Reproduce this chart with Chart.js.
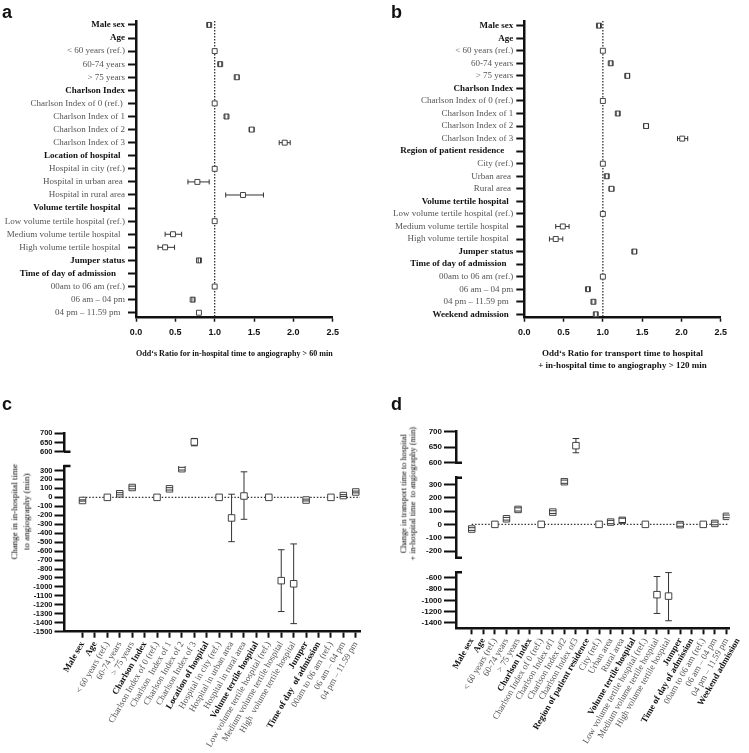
<!DOCTYPE html>
<html lang="en">
<head>
<meta charset="UTF-8">
<title>Odds ratios and time differences</title>
<style>
  body { margin: 0; background: #fff; }
  #wrap { position: relative; width: 749px; height: 753px; overflow: hidden; }
  canvas { position: absolute; }
  .letter { position: absolute; font: bold 18px "Liberation Sans", Arial, sans-serif; line-height: 18px; color: #111; }
  .ytitle { position: absolute; width: 200px; text-align: center; font-family: "Liberation Serif", "Times New Roman", serif; color: #000; transform: rotate(-90deg); white-space: nowrap; }
</style>
</head>
<body>
<div id="wrap">
  <canvas id="chartA" width="370" height="375" style="left:0;top:0"></canvas>
  <canvas id="chartB" width="379" height="375" style="left:370px;top:0"></canvas>
  <canvas id="chartC" width="370" height="353" style="left:0;top:400px"></canvas>
  <canvas id="chartD" width="379" height="353" style="left:370px;top:400px"></canvas>
  <div class="letter" style="left:2px;top:3px">a</div>
  <div class="letter" style="left:391px;top:3px">b</div>
  <div class="letter" style="left:2px;top:395px">c</div>
  <div class="letter" style="left:391px;top:395px">d</div>
  <div class="ytitle" style="left:-79px;top:500px;font-size:9px;line-height:11.7px">Change in in-hospital time<br>to angiography (min)</div>
  <div class="ytitle" style="left:309px;top:485px;font-size:8.3px;line-height:8.7px">Change in transport time to hospital<br>+ in-hospital time&nbsp; to angiography (min)</div>
</div>

<script src="https://cdn.jsdelivr.net/npm/chart.js"></script>
<script>
const SERIF = '"Liberation Serif", "Times New Roman", serif';
const SANS = '"Liberation Sans", Arial, sans-serif';

// ---- panel a: odds ratios, in-hospital time > 60 min
const rowsA = ['Male sex', 'Age', '< 60 years (ref.)', '60-74 years', '> 75 years', 'Charlson Index',
  'Charlson Index of 0 (ref.) ', 'Charlson Index of 1', 'Charlson Index of 2', 'Charlson Index of 3',
  'Location of hospital  ', 'Hospital in city (ref.)', 'Hospital in urban area ', 'Hospital in rural area',
  'Volume tertile hospital  ', 'Low volume tertile hospital (ref.)', 'Medium volume tertile hospital  ',
  'High volume tertile hospital  ', 'Jumper status', 'Time of day of admission    ', '00am to 06 am (ref.)',
  '06 am – 04 pm', '04 pm – 11.59 pm  '];
const headsA = [0, 1, 5, 10, 14, 18, 19];
const orA = [0.93, null, 1, 1.07, 1.28, null, 1, 1.15, 1.47, 1.89, null, 1, 0.78, 1.36, null, 1, 0.47, 0.37, 0.80, null, 1, 0.72, 0.80];
const loA = [0.91, null, null, 1.05, 1.26, null, null, 1.13, 1.44, 1.82, null, null, 0.66, 1.14, null, null, 0.37, 0.28, 0.79, null, null, 0.71, null];
const hiA = [0.95, null, null, 1.09, 1.31, null, null, 1.17, 1.50, 1.96, null, null, 0.93, 1.62, null, null, 0.58, 0.49, 0.82, null, null, 0.74, null];
const titleA = 'Odd‘s Ratio for in-hospital time to angiography > 60 min';

// ---- panel b: odds ratios, transport + in-hospital time > 120 min
const rowsB = ['Male sex', 'Age', '< 60 years (ref.)', '60-74 years', '> 75 years', 'Charlson Index',
  'Charlson Index of 0 (ref.)', 'Charlson Index of 1', 'Charlson Index of 2', 'Charlson Index of 3',
  'Region of patient residence    ', 'City (ref.)', 'Urban area ', 'Rural area ', 'Volume tertile hospital  ',
  'Low volume tertile hospital (ref.)', 'Medium volume tertile hospital  ', 'High volume tertile hospital  ',
  'Jumper status', 'Time of day of admission   ', '00am to 06 am (ref.)', '06 am – 04 pm', '04 pm – 11.59 pm  ',
  'Weekend admission  '];
const headsB = [0, 1, 5, 10, 14, 18, 19, 23];
const orB = [0.95, null, 1, 1.10, 1.31, null, 1, 1.19, 1.55, 2.01, null, 1, 1.05, 1.11, null, 1, 0.49, 0.40, 1.40, null, 1, 0.81, 0.88, 0.91];
const loB = [0.93, null, null, 1.08, 1.29, null, null, 1.17, 1.52, 1.95, null, null, 1.03, 1.08, null, null, 0.40, 0.32, 1.38, null, null, 0.79, 0.86, 0.89];
const hiB = [0.97, null, null, 1.12, 1.34, null, null, 1.21, 1.58, 2.08, null, null, 1.07, 1.14, null, null, 0.57, 0.49, 1.43, null, null, 0.83, 0.90, 0.93];
const titleB = ['Odd‘s Ratio for transport time to hospital', '+ in-hospital time to angiography > 120 min'];

const refOR = 1;
const refChange = 0;

// ---- panel c: change in in-hospital time (min)
const catsC = ['Male sex', 'Age', '< 60 years (ref.)', '60-74 years', '> 75 years', 'Charlson Index',
  'Charlson Index of 0 (ref.)', 'Charlson  Index of 1', 'Charlson Index of 2', 'Charlson Index of 3',
  'Location of hospital', 'Hospital in city (ref.)', 'Hospital in urban area', 'Hospital in rural area',
  'Volume tertile hospital', 'Low volume tertile hospital (ref.)', 'Medium volume tertile hospital',
  'High  volume tertile hospital', 'Jumper', 'Time of day  of admission', '00am to 06 am (ref.)',
  '06 am – 04 pm', '04 pm – 11.59 pm'];
const headsC = [0, 1, 5, 10, 14, 18, 19];
const minC = [-35, null, 0, 40, 110, null, 0, 95, 320, 653, null, 0, -230, 15, null, 0, -930, -965, -30, null, 0, 20, 60];
const loC = [-42, null, null, 28, 95, null, null, 82, 305, 632, null, null, -495, -245, null, null, -1275, -1410, -40, null, null, 10, 50];
const hiC = [-28, null, null, 52, 125, null, null, 108, 335, 672, null, null, 35, 285, null, null, -585, -520, -20, null, null, 30, 70];
const segC = [{ id: 'yTop', min: 600, max: 700, step: 50 }, { id: 'yLow', min: -1500, max: 350, step: 100 }];

// ---- panel d: change in transport + in-hospital time (min)
const catsD = ['Male sex', 'Age', '< 60 years (ref.)', '60-74 years', '> 75 years', 'Charlson Index',
  'Charlson Index of 0 (ref.)', 'Charlson Index of1', 'Charlson Index of2', 'Charlson Index of3',
  'Region of patient residence', 'City (ref.)', 'Urban area', 'Rural area', 'Volume tertile hospital',
  'Low volume tertile hospital (ref.)', 'Medium volume tertile hospital', 'High volume tertile hospital',
  'Jumper', 'Time of day of admission', '00am to 06 am (ref.)', '06 am – 04 pm', '04 pm – 11.59 pm',
  'Weekend admission'];
const headsD = [0, 1, 5, 10, 14, 18, 19, 23];
const minD = [-35, null, 0, 42, 112, null, 0, 92, 320, 655, null, 0, 17, 30, null, 0, -900, -925, -2, null, 0, 7, 60, null];
const loD = [-45, null, null, 32, 100, null, null, 82, 308, 632, null, null, 5, 14, null, null, -1235, -1365, -14, null, null, -3, 50, null];
const hiD = [-25, null, null, 52, 124, null, null, 102, 332, 678, null, null, 30, 46, null, null, -575, -505, 10, null, null, 17, 70, null];
const segD = [{ id: 'yTop', min: 600, max: 700, step: 50 }, { id: 'yMid', min: -250, max: 350, step: 100 },
  { id: 'yLow', min: -1500, max: -500, step: 200 }];

// error bars drawn through the chart scales
const errorBars = {
  id: 'errorBars',
  afterDatasetsDraw(chart, args, opts) {
    const ctx = chart.ctx;
    ctx.save();
    ctx.strokeStyle = '#333';
    ctx.lineWidth = 1;
    ctx.beginPath();
    chart.data.datasets.forEach(ds => {
      if (!ds.errorBars) return;
      const xs = chart.scales.x, ys = chart.scales[ds.yAxisID || 'y'];
      const half = ds.pointRadius * Math.SQRT1_2;
      ds.data.forEach(p => {
        if (p.lo == null) return;
        if (opts.horizontal) {
          const y = ys.getPixelForValue(p.y), c = xs.getPixelForValue(p.x);
          const a = xs.getPixelForValue(p.lo), b = xs.getPixelForValue(p.hi);
          if (a < c - half) { ctx.moveTo(a, y); ctx.lineTo(c - half, y); }
          if (b > c + half) { ctx.moveTo(c + half, y); ctx.lineTo(b, y); }
          ctx.moveTo(a, y - opts.cap); ctx.lineTo(a, y + opts.cap);
          ctx.moveTo(b, y - opts.cap); ctx.lineTo(b, y + opts.cap);
        } else {
          const x = xs.getPixelForValue(p.x), c = ys.getPixelForValue(p.y);
          const a = ys.getPixelForValue(p.hi), b = ys.getPixelForValue(p.lo);
          if (a < c - half) { ctx.moveTo(x, a); ctx.lineTo(x, c - half); }
          if (b > c + half) { ctx.moveTo(x, c + half); ctx.lineTo(x, b); }
          ctx.moveTo(x - opts.cap, a); ctx.lineTo(x + opts.cap, a);
          ctx.moveTo(x - opts.cap, b); ctx.lineTo(x + opts.cap, b);
        }
      });
    });
    ctx.stroke();
    ctx.restore();
  }
};

// little caps where the y axis is broken
const breakCaps = {
  id: 'breakCaps',
  afterDraw(chart, args, opts) {
    if (!opts.ends) return;
    const ctx = chart.ctx;
    ctx.save();
    ctx.strokeStyle = '#111';
    ctx.lineWidth = 2.5;
    ctx.beginPath();
    opts.ends.forEach(([id, edge]) => {
      const s = chart.scales[id];
      const y = edge === 'top' ? s.top : s.bottom;
      ctx.moveTo(s.right - 1, y);
      ctx.lineTo(s.right + 6, y);
    });
    ctx.stroke();
    ctx.restore();
  }
};

function forest(id, rows, heads, or, lo, hi, yMin, yMax, axisW, xH, pad, title, titlePad) {
  const pts = [];
  or.forEach((v, i) => { if (v != null) pts.push({ x: v, y: i, lo: lo[i], hi: hi[i] }); });
  return new Chart(document.getElementById(id), {
    type: 'scatter',
    data: {
      datasets: [
        { data: pts, pointStyle: 'rect', pointRadius: 3.5, pointBackgroundColor: '#fff', pointBorderColor: '#444', pointBorderWidth: 1, errorBars: true, order: 1 },
        { type: 'line', data: [{ x: refOR, y: yMin }, { x: refOR, y: yMax }], borderColor: '#333', borderWidth: 1.3, borderDash: [1.5, 1.5], pointRadius: 0, order: 2 }
      ]
    },
    options: {
      responsive: false,
      animation: false,
      layout: { padding: pad },
      plugins: { legend: { display: false }, tooltip: { enabled: false }, errorBars: { horizontal: true, cap: 2.5 } },
      scales: {
        x: {
          type: 'linear', min: 0, max: 2.5,
          ticks: { stepSize: 0.5, callback: v => v.toFixed(1), color: '#111', font: { family: SANS, size: 9, weight: 'bold' }, padding: 5 },
          grid: { drawOnChartArea: false, tickLength: 4, tickWidth: 1.5, tickColor: '#111' },
          border: { width: 2.5, color: '#111' },
          title: { display: true, text: title, color: '#111', font: { family: SERIF, size: 9, weight: 'bold', lineHeight: 1.4 }, padding: { top: 0, bottom: titlePad } },
          afterFit: s => { s.height = xH; }
        },
        y: {
          type: 'linear', reverse: true, min: yMin, max: yMax,
          afterBuildTicks: s => { s.ticks = rows.map((r, i) => ({ value: i })); },
          ticks: {
            autoSkip: false,
            callback: v => rows[v],
            color: c => heads.includes(c.index) ? '#111' : '#555',
            font: c => ({ family: SERIF, size: 9, weight: heads.includes(c.index) ? 'bold' : 'normal' }),
            padding: 3
          },
          grid: { drawOnChartArea: false, tickLength: 8, tickWidth: 2, tickColor: '#111' },
          border: { width: 2.5, color: '#111' },
          afterFit: s => { s.width = axisW; }
        }
      }
    },
    plugins: [errorBars]
  });
}

function broken(id, cats, heads, vals, lo, hi, segs, weights, gaps, ends, xMin, xMax, axisW, xH, pad, tickLen, yFont, lastTick) {
  const datasets = [];
  segs.forEach(seg => {
    const pts = [];
    vals.forEach((v, i) => { if (v != null && v >= seg.min && v <= seg.max) pts.push({ x: i, y: v, lo: lo[i], hi: hi[i] }); });
    datasets.push({ data: pts, yAxisID: seg.id, pointStyle: 'rect', pointRadius: 4.6, pointBackgroundColor: '#fff', pointBorderColor: '#444', pointBorderWidth: 1, errorBars: true, order: 1 });
    if (refChange >= seg.min && refChange <= seg.max) {
      datasets.push({ type: 'line', yAxisID: seg.id, data: [{ x: 0, y: refChange }, { x: xMax, y: refChange }], borderColor: '#333', borderWidth: 1.3, borderDash: [1.5, 1.8], pointRadius: 0, order: 2 });
    }
  });
  const scales = {
    x: {
      type: 'linear', min: xMin, max: xMax,
      afterBuildTicks: s => { s.ticks = cats.map((c, i) => ({ value: i })); },
      ticks: {
        autoSkip: false, minRotation: 60, maxRotation: 60,
        callback: v => cats[v],
        color: c => heads.includes(c.index) ? '#111' : '#555',
        font: c => ({ family: SERIF, size: 9, weight: heads.includes(c.index) ? 'bold' : 'normal' }),
        padding: 2
      },
      grid: { drawOnChartArea: false, tickLength: 6, tickWidth: 2, tickColor: c => c.index > lastTick ? 'rgba(0,0,0,0)' : '#111' },
      border: { width: 2.5, color: '#111' },
      afterFit: s => { s.height = xH; }
    }
  };
  // stacked left axes are laid out last-created on top, so build from the bottom up
  for (let k = segs.length - 1; k >= 0; k--) {
    const seg = segs[k];
    scales[seg.id] = {
      type: 'linear', position: 'left', stack: 'v', stackWeight: weights[k], min: seg.min, max: seg.max,
      afterBuildTicks: s => {
        const t = [];
        for (let v = Math.ceil(seg.min / seg.step) * seg.step; v <= seg.max; v += seg.step) t.push({ value: v });
        s.ticks = t;
      },
      ticks: { autoSkip: false, callback: v => String(v), color: '#111', font: { family: SANS, size: yFont, weight: 'bold' }, padding: 2 },
      grid: { drawOnChartArea: false, tickLength: tickLen, tickWidth: 2, tickColor: '#111' },
      border: { width: 2.5, color: '#111' },
      afterFit: s => { s.width = axisW; }
    };
    if (k > 0) {
      scales['gap' + k] = {
        type: 'linear', position: 'left', stack: 'v', stackWeight: gaps[k - 1], min: 0, max: 1,
        border: { display: false }, grid: { display: false }, ticks: { display: false },
        afterFit: s => { s.width = axisW; }
      };
    }
  }
  return new Chart(document.getElementById(id), {
    type: 'scatter',
    data: { datasets: datasets },
    options: {
      responsive: false,
      animation: false,
      layout: { padding: pad },
      plugins: { legend: { display: false }, tooltip: { enabled: false }, errorBars: { horizontal: false, cap: 3.3 }, breakCaps: { ends: ends } },
      scales: scales
    },
    plugins: [errorBars, breakCaps]
  });
}

Chart.defaults.font.family = SERIF;

forest('chartA', rowsA, headsA, orA, loA, hiA, -0.3, 22.38, 136, 57.3,
  { left: 0, top: 21, right: 37.3, bottom: 0 }, titleA, 14.7);
forest('chartB', rowsB, headsB, orB, loB, hiB, -0.37, 23.27, 154.3, 57.3,
  { left: 0, top: 21, right: 28.3, bottom: 0 }, titleB, 2.7);

broken('chartC', catsC, headsC, minC, loC, hiC, segC, [18.4, 165.7], [14.3],
  [['yTop', 'bottom'], ['yLow', 'top']],
  -1.45, 22.34, 64.5, 121.3, { left: 0, top: 33.3, right: 10, bottom: 0 }, 10, 7.5, 22);
broken('chartD', catsD, headsD, minD, loD, hiD, segD, [31, 80, 56], [15, 14.6],
  [['yTop', 'bottom'], ['yMid', 'top'], ['yMid', 'bottom'], ['yLow', 'top']],
  -1.36, 22.23, 86, 124.7, { left: 0, top: 31.7, right: 11, bottom: 0 }, 12, 8, 22);
</script>
</body>
</html>
